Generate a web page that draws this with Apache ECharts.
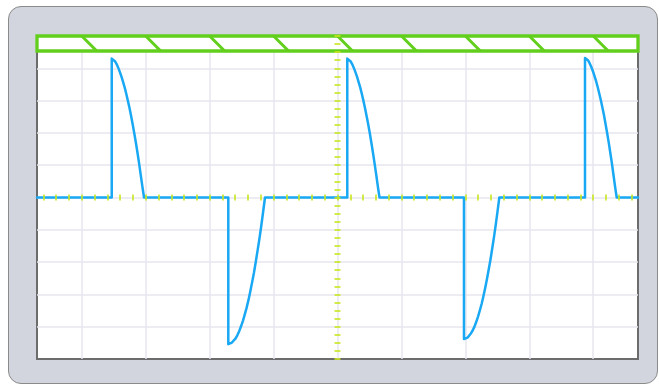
<!DOCTYPE html>
<html>
<head>
<meta charset="utf-8">
<script src="https://cdn.jsdelivr.net/npm/echarts@6/dist/echarts.min.js"></script>
<style>
html, body { margin: 0; padding: 0; background: #fff; }
#frame { position: absolute; left: 8px; top: 6px; width: 648px; height: 376px; background: #d2d5dd; border: 1px solid #8a8a8a; border-radius: 13px; }
#main { position: absolute; left: 0; top: 0; width: 659px; height: 385px; }
</style>
</head>
<body>
<div id="frame"></div>
<div id="main"></div>
<script>
// screen in divisions, centre = 0,0
var xMin = -4.7, xMax = 4.7;
var yMin = -5, yMax = 5;
var gridX = [-4, -3, -2, -1, 0, 1, 2, 3, 4];
var gridY = [-4, -3, -2, -1, 0, 1, 2, 3, 4];
var barBottom = 4.535;   // lower edge of the green bar
var slashShift = 0.235;  // how far each slash leans

// trace, one list per pulse [x div, y div]
var pulse1 = [
  [-3.531, 0], [-3.531, 4.30], [-3.523, 4.36], [-3.506, 4.30], [-3.481, 4.22], [-3.455, 4.13],
  [-3.430, 4.02], [-3.405, 3.89], [-3.380, 3.75], [-3.354, 3.58], [-3.329, 3.41], [-3.304, 3.21],
  [-3.279, 3.00], [-3.253, 2.77], [-3.228, 2.52], [-3.203, 2.26], [-3.178, 1.98], [-3.152, 1.68],
  [-3.127, 1.37], [-3.102, 1.04], [-3.077, 0.69], [-3.051, 0.33], [-3.026, 0]
];
var pulse2 = [
  [-1.708, 0], [-1.708, -4.54], [-1.679, -4.53], [-1.651, -4.49], [-1.622, -4.44], [-1.593, -4.36],
  [-1.565, -4.26], [-1.536, -4.13], [-1.507, -3.98], [-1.478, -3.81], [-1.450, -3.62], [-1.421, -3.41],
  [-1.392, -3.17], [-1.364, -2.91], [-1.335, -2.62], [-1.306, -2.32], [-1.278, -1.99], [-1.249, -1.63],
  [-1.220, -1.26], [-1.191, -0.86], [-1.163, -0.44], [-1.134, 0]
];
var pulse3 = [
  [0.153, 0], [0.153, 4.30], [0.161, 4.36], [0.178, 4.30], [0.203, 4.22], [0.229, 4.13],
  [0.254, 4.02], [0.279, 3.89], [0.304, 3.75], [0.329, 3.58], [0.355, 3.41], [0.380, 3.21],
  [0.405, 3.00], [0.430, 2.77], [0.455, 2.52], [0.481, 2.26], [0.506, 1.98], [0.531, 1.68],
  [0.556, 1.37], [0.581, 1.04], [0.607, 0.69], [0.632, 0.33], [0.657, 0]
];
var pulse4 = [
  [1.978, 0], [1.978, -4.38], [2.006, -4.37], [2.033, -4.34], [2.061, -4.28], [2.089, -4.20],
  [2.116, -4.11], [2.144, -3.99], [2.172, -3.84], [2.199, -3.68], [2.227, -3.49], [2.255, -3.29],
  [2.282, -3.06], [2.310, -2.80], [2.337, -2.53], [2.365, -2.23], [2.393, -1.92], [2.420, -1.58],
  [2.448, -1.22], [2.476, -0.83], [2.503, -0.43], [2.531, 0]
];
var pulse5 = [
  [3.871, 0], [3.871, 4.32], [3.879, 4.38], [3.896, 4.32], [3.921, 4.24], [3.945, 4.15],
  [3.970, 4.04], [3.995, 3.91], [4.020, 3.76], [4.045, 3.60], [4.069, 3.42], [4.094, 3.22],
  [4.119, 3.01], [4.144, 2.78], [4.169, 2.54], [4.193, 2.27], [4.218, 1.99], [4.243, 1.69],
  [4.268, 1.37], [4.293, 1.04], [4.317, 0.69], [4.342, 0.33], [4.367, 0]
];
var signal = [[xMin, 0]].concat(pulse1, pulse2, pulse3, pulse4, pulse5, [[xMax, 0]]);

var green = '#62cf1c';
var tickColor = '#c9e61e';

// minor ticks on the centre cross (0.2 div across, 0.25 div up)
var minorX = [];
for (var i = -23; i <= 23; i++) {
  minorX.push(Math.round(i * 2) / 10);
}

var chart = echarts.init(document.getElementById('main'));

var option = {
  animation: false,
  backgroundColor: 'transparent',
  grid: [
    { left: 37, right: 21, top: 36, bottom: 26, show: true, backgroundColor: '#fff', borderColor: '#6c6c6c', borderWidth: 2 },
    { left: 37, right: 21, top: 194.5, height: 6, show: false },
    { left: 334.5, width: 6, top: 36, bottom: 26, show: false }
  ],
  xAxis: [
    {
      gridIndex: 0, type: 'value', min: xMin, max: xMax,
      axisLine: { show: false }, axisLabel: { show: false },
      axisTick: { show: false, customValues: gridX },
      splitLine: { show: true, lineStyle: { color: '#e6e6ee', width: 1.5 } }
    },
    {
      gridIndex: 1, type: 'value', min: xMin, max: xMax, z: 10,
      axisLine: { show: false }, axisLabel: { show: false }, splitLine: { show: false },
      axisTick: { show: true, inside: true, length: 6, customValues: minorX, lineStyle: { color: tickColor, width: 1.6 } }
    },
    { gridIndex: 2, type: 'value', show: false }
  ],
  yAxis: [
    {
      gridIndex: 0, type: 'value', min: yMin, max: yMax,
      axisLine: { show: false }, axisLabel: { show: false },
      axisTick: { show: false, customValues: gridY },
      splitLine: { show: true, lineStyle: { color: '#e6e6ee', width: 1.5 } }
    },
    { gridIndex: 1, type: 'value', show: false },
    {
      gridIndex: 2, type: 'value', min: yMin, max: yMax, interval: 0.25, z: 10,
      axisLine: { show: false }, axisLabel: { show: false }, splitLine: { show: false },
      axisTick: { show: true, inside: true, length: 6, lineStyle: { color: tickColor, width: 1.6 } }
    }
  ],
  series: [
    {
      // green bar with slashes at each division
      type: 'custom',
      xAxisIndex: 0, yAxisIndex: 0, z: 3, clip: false,
      data: gridX.map(function (v) { return [v]; }),
      renderItem: function (params, api) {
        var x = api.value(0);
        var p1 = api.coord([x, yMax]);
        var p2 = api.coord([x + slashShift, barBottom]);
        var kids = [];
        if (params.dataIndex === 0) {
          var a = api.coord([xMin, yMax]);
          var b = api.coord([xMax, barBottom]);
          kids.push({
            type: 'rect',
            shape: { x: a[0], y: a[1], width: b[0] - a[0], height: b[1] - a[1] },
            style: { fill: '#fff', stroke: green, lineWidth: 3.3 }
          });
        }
        kids.push({
          type: 'line',
          shape: { x1: p1[0], y1: p1[1], x2: p2[0], y2: p2[1] },
          style: { stroke: green, lineWidth: 3 }
        });
        return { type: 'group', children: kids };
      }
    },
    {
      type: 'line',
      xAxisIndex: 0, yAxisIndex: 0, z: 5,
      data: signal,
      showSymbol: false,
      lineStyle: { color: '#19a8f3', width: 2.5, join: 'round', cap: 'round' }
    }
  ]
};

chart.setOption(option);
</script>
</body>
</html>
